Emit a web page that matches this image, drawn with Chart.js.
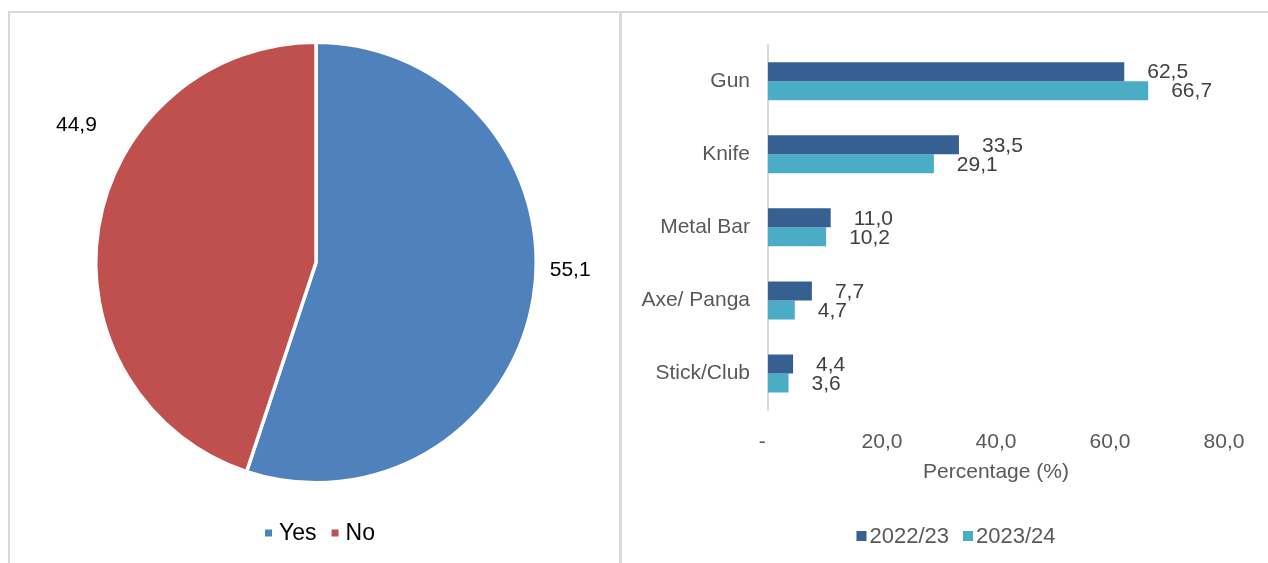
<!DOCTYPE html>
<html>
<head>
<meta charset="utf-8">
<script src="https://cdn.jsdelivr.net/npm/chart.js@4.4.1/dist/chart.umd.min.js"></script>
<style>
  html, body { margin: 0; padding: 0; background: #fff; }
  body { width: 1268px; height: 563px; position: relative; overflow: hidden; }
  .panel { position: absolute; border: 2px solid #d9d9d9; border-bottom: none; box-sizing: border-box; }
  #pieBox { left: 8px; top: 11px; width: 613px; height: 560px; }
  #barBox { left: 620px; top: 11px; width: 660px; height: 560px; border-right: none; }
  canvas { position: absolute; }
  #pieCanvas { left: 11px; top: 14px; }
  #barCanvas { left: 622px; top: 14px; }
</style>
</head>
<body>
<div class="panel" id="pieBox"></div>
<div class="panel" id="barBox"></div>
<canvas id="pieCanvas" width="608" height="549"></canvas>
<canvas id="barCanvas" width="646" height="549"></canvas>

<script>
// Pie: weapon used?
const pieLabels = ['Yes', 'No'];
const pieValues = [55.1, 44.9];
const pieColors = ['#4f81bd', '#c0504d'];

// Bars: weapon types by year
const weaponTypes = ['Gun', 'Knife', 'Metal Bar', 'Axe/ Panga', 'Stick/Club'];
const years = ['2022/23', '2023/24'];
const values2022 = [62.5, 33.5, 11.0, 7.7, 4.4];
const values2023 = [66.7, 29.1, 10.2, 4.7, 3.6];
const barColors = ['#366092', '#4bacc6'];
const xTicks = [0, 20, 40, 60, 80];

const FONT = '"Liberation Sans", Arial, sans-serif';
Chart.defaults.font.family = FONT;
Chart.defaults.animation = false;

const fmt = (v) => v.toFixed(1).replace('.', ',');

// legend drawn as a centred row of small squares + labels
function drawLegend(ctx, items, o) {
  ctx.save();
  ctx.font = `${o.size}px ${FONT}`;
  ctx.textBaseline = 'middle';
  ctx.textAlign = 'left';
  let total = 0;
  items.forEach((it, i) => {
    total += o.box + o.gap + ctx.measureText(it.text).width;
    if (i < items.length - 1) total += o.spacing;
  });
  let x = o.cx - total / 2;
  items.forEach((it) => {
    ctx.fillStyle = it.color;
    ctx.fillRect(x, o.y - o.box / 2, o.box, o.box);
    x += o.box + o.gap;
    ctx.fillStyle = o.textColor;
    ctx.fillText(it.text, x, o.y + 1);
    x += ctx.measureText(it.text).width + o.spacing;
  });
  ctx.restore();
}

const pieLabelPlugin = {
  id: 'pieLabels',
  afterDatasetsDraw(chart, args, opts) {
    const ctx = chart.ctx;
    const meta = chart.getDatasetMeta(0);
    ctx.save();
    ctx.font = `${opts.size}px ${FONT}`;
    ctx.fillStyle = opts.color;
    ctx.textAlign = 'center';
    ctx.textBaseline = 'middle';
    meta.data.forEach((arc, i) => {
      const p = opts.place[i];
      const a = arc.startAngle + p.frac * (arc.endAngle - arc.startAngle);
      const r = arc.outerRadius + p.gap;
      ctx.fillText(fmt(pieValues[i]), arc.x + Math.cos(a) * r, arc.y + Math.sin(a) * r);
    });
    ctx.restore();
  },
  afterDraw(chart, args, opts) {
    drawLegend(chart.ctx, pieLabels.map((t, i) => ({ text: t, color: pieColors[i] })), opts.legend);
  },
};

new Chart(document.getElementById('pieCanvas'), {
  type: 'pie',
  data: {
    labels: pieLabels,
    datasets: [{
      data: pieValues,
      backgroundColor: pieColors,
      borderColor: '#ffffff',
      borderWidth: 3.5,
    }],
  },
  options: {
    responsive: false,
    layout: { padding: { left: 83, right: 81, top: 26, bottom: 78 } },
    plugins: {
      legend: { display: false },
      tooltip: { enabled: false },
      pieLabels: {
        size: 21,
        color: '#000000',
        place: [{ frac: 0.462, gap: 34 }, { frac: 0.628, gap: 56 }],
        legend: { cx: 309, y: 519, box: 7, gap: 7, spacing: 15, size: 23, textColor: '#000000' },
      },
    },
  },
  plugins: [pieLabelPlugin],
});

const barLabelPlugin = {
  id: 'barLabels',
  afterDatasetsDraw(chart, args, opts) {
    const ctx = chart.ctx;
    ctx.save();
    ctx.font = `${opts.size}px ${FONT}`;
    ctx.fillStyle = opts.color;
    ctx.textAlign = 'left';
    ctx.textBaseline = 'middle';
    chart.data.datasets.forEach((ds, di) => {
      chart.getDatasetMeta(di).data.forEach((bar, i) => {
        ctx.fillText(fmt(ds.data[i]), bar.x + opts.offset, bar.y + 1);
      });
    });
    ctx.restore();
  },
  afterDraw(chart, args, opts) {
    drawLegend(chart.ctx, years.map((t, i) => ({ text: t, color: barColors[i] })), opts.legend);
  },
};

new Chart(document.getElementById('barCanvas'), {
  type: 'bar',
  data: {
    labels: weaponTypes,
    datasets: [
      { label: years[0], data: values2022, backgroundColor: barColors[0] },
      { label: years[1], data: values2023, backgroundColor: barColors[1] },
    ],
  },
  options: {
    responsive: false,
    indexAxis: 'y',
    layout: { padding: { left: 0, right: 44, top: 28, bottom: 74 } },
    datasets: { bar: { categoryPercentage: 0.52, barPercentage: 1.0 } },
    plugins: {
      legend: { display: false },
      tooltip: { enabled: false },
      barLabels: {
        size: 21,
        color: '#404040',
        offset: 23,
        legend: { cx: 334, y: 522, box: 10, gap: 3, spacing: 14, size: 22, textColor: '#595959' },
      },
    },
    scales: {
      x: {
        min: xTicks[0],
        max: xTicks[xTicks.length - 1],
        afterBuildTicks: (scale) => { scale.ticks = xTicks.map((v) => ({ value: v })); },
        afterFit: (scale) => { scale.height = 79; },
        grid: { display: false, drawTicks: false },
        border: { display: false },
        ticks: {
          padding: 20,
          color: '#595959',
          font: { size: 21 },
          maxRotation: 0,
          // zero shows as a dash, nudged left like an accounting format
          callback: (v) => (v === 0 ? '-  ' : fmt(v)),
        },
        title: {
          display: true,
          text: 'Percentage (%)',
          color: '#595959',
          font: { size: 21 },
          padding: { top: 4, bottom: 4 },
        },
      },
      y: {
        afterFit: (scale) => { scale.width = 146; },
        grid: { display: false, drawTicks: false },
        border: { display: true, color: '#d9d9d9', width: 2 },
        ticks: { padding: 18, color: '#595959', font: { size: 21 } },
      },
    },
  },
  plugins: [barLabelPlugin],
});
</script>
</body>
</html>
